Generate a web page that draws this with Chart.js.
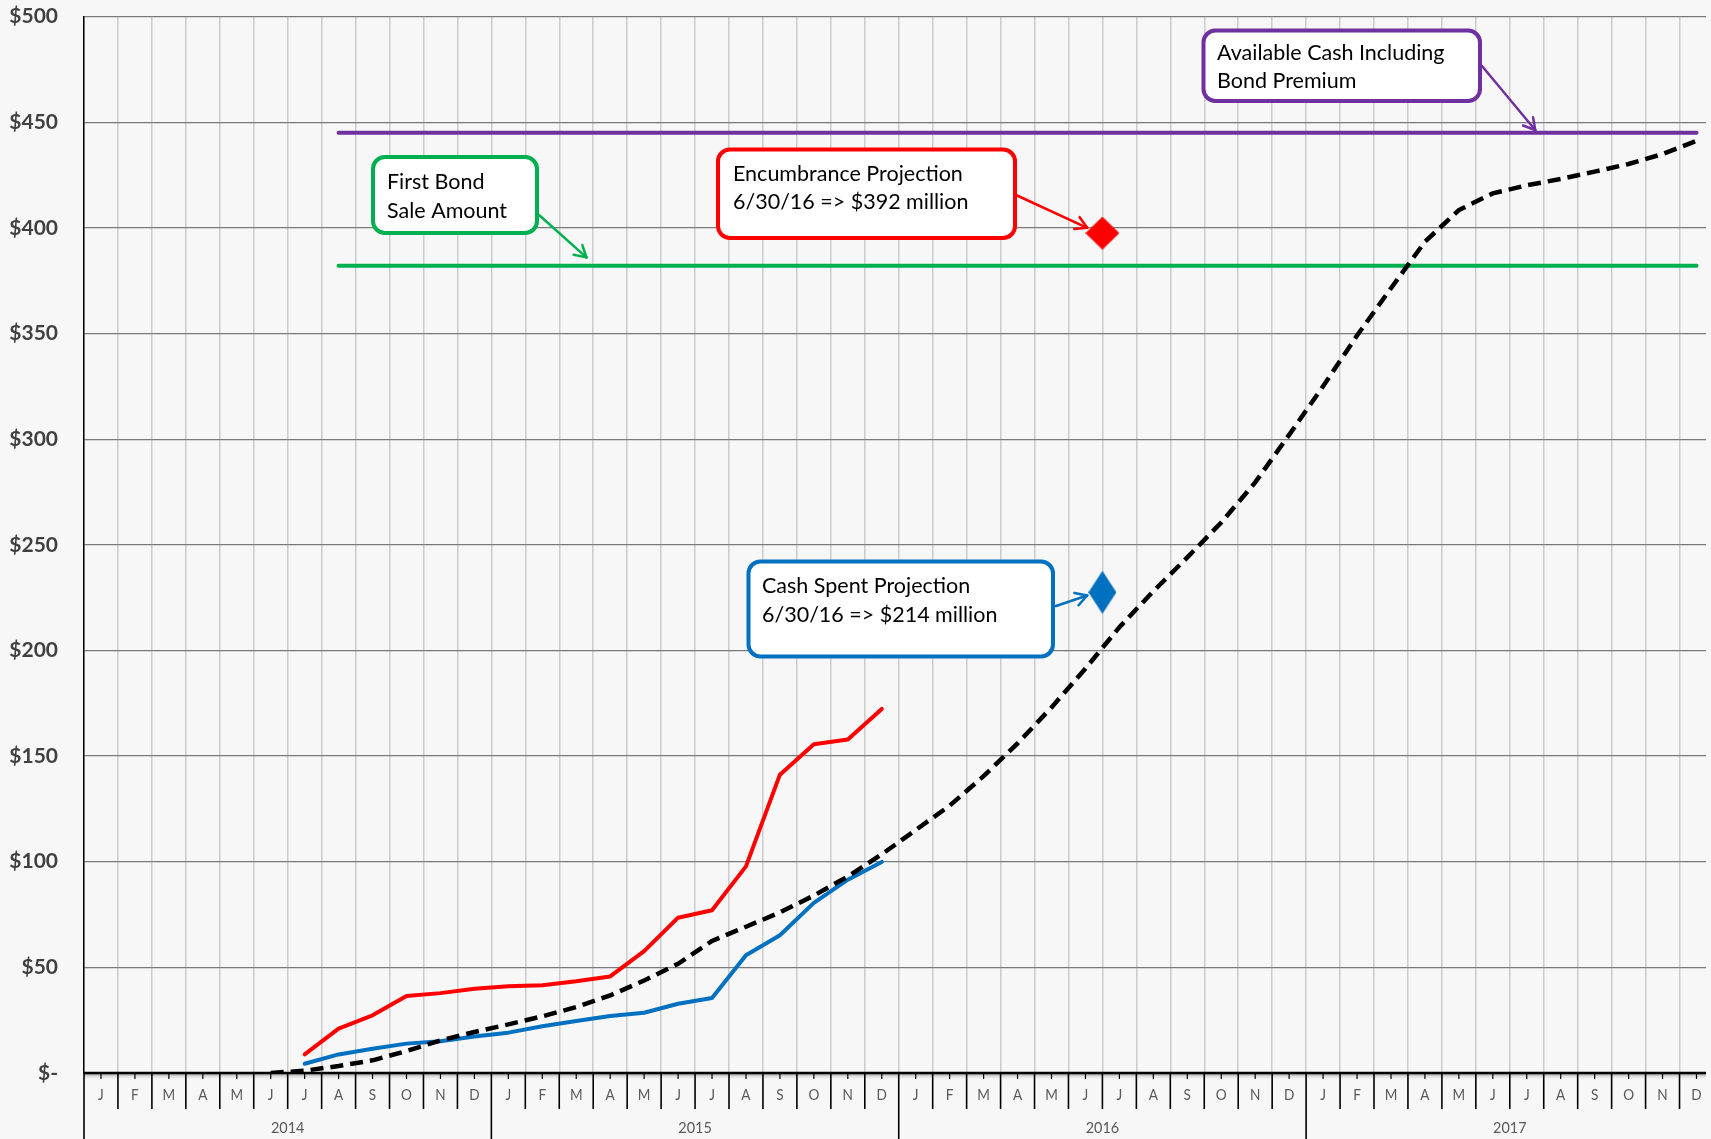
<!DOCTYPE html>
<html>
<head>
<meta charset="utf-8">
<script src="https://cdn.jsdelivr.net/npm/chart.js@4.4.0/dist/chart.umd.min.js"></script>
<style>
  html, body { margin: 0; padding: 0; background: #f7f7f7; }
  #wrap { width: 1711px; height: 1139px; position: relative; }
</style>
</head>
<body>
<div id="wrap"><canvas id="bondChart"></canvas></div>
<script>
// months run Jan 2014 .. Dec 2017, index 0..47 (points sit at index + 0.5)
const monthLetters = ["J", "F", "M", "A", "M", "J", "J", "A", "S", "O", "N", "D"];
const yearLabels = ["2014", "2015", "2016", "2017"];

// actuals start Jul 2014
const actualStart = 6;
const encumbranceActual = [8.8, 21.0, 27.3, 36.4, 37.8, 39.9,
    41.0, 41.5, 43.4, 45.7, 57.7, 73.5, 77.0, 97.8, 141.2, 155.6, 157.8, 172.3];
const cashSpentActual = [4.4, 8.8, 11.5, 13.9, 15.0, 17.3,
    19.1, 22.1, 24.6, 27.0, 28.5, 32.8, 35.5, 55.7, 65.2, 80.5, 91.5, 99.9];

// projected cash spent starts Jun 2014
const projectionStart = 5;
const cashSpentProjection = [0, 1.1, 3.3, 6.0, 10.4, 15.4, 19.4,
    23.0, 26.8, 31.2, 36.7, 43.8, 51.7, 62.5, 69.2, 76.0, 84.0, 93.0, 103.5,
    115, 126.5, 140.5, 156, 173, 191.4, 211, 228, 244, 260.5, 279.5, 302,
    325, 349, 371.4, 393.4, 408.4, 416.3, 420.1, 423.1, 426.6, 430.2, 434.9, 441.2];

// level lines Aug 2014 .. Dec 2017
const levelStart = 7;
const levelEnd = 47;
const firstBondSale = 382;
const availableCash = 445;

// 6/30/16 projections (end of June 2016 = month boundary 30)
const projectionDate = 30;
const encumbranceTarget = 397.5;
const cashSpentTarget = 227.5;

function toPoints(start, values) {
    return values.map((v, k) => ({ x: start + k + 0.5, y: v }));
}

function diamondImage(w, h, color) {
    const c = document.createElement("canvas");
    c.width = w; c.height = h;
    const g = c.getContext("2d");
    g.fillStyle = color;
    g.beginPath();
    g.moveTo(w / 2, 0); g.lineTo(w, h / 2); g.lineTo(w / 2, h); g.lineTo(0, h / 2);
    g.closePath();
    g.fill();
    return c;
}

const callouts = [
    { color: "#00b050", box: [373, 157, 164, 76], lines: ["First Bond", "Sale Amount"],
      textX: 387, textY: [182, 211], from: [539, 215], tip: [14.8, 386] },
    { color: "#ff0000", box: [718, 149.5, 297, 88.5], lines: ["Encumbrance Projection", "6/30/16 => $392 million"],
      textX: 733, textY: [174, 202], from: [1016, 195], tip: [29.55, 400] },
    { color: "#0070c0", box: [748.5, 561.5, 304.5, 95], lines: ["Cash Spent Projection", "6/30/16 => $214 million"],
      textX: 762, textY: [586, 615], from: [1056, 606], tip: [29.55, 226] },
    { color: "#7030a0", box: [1203.5, 30.5, 276.5, 70.5], lines: ["Available Cash Including", "Bond Premium"],
      textX: 1217, textY: [53, 81], from: [1482, 66], tip: [42.75, 446.3] }
];

function strokeLine(ctx, x1, y1, x2, y2) {
    ctx.beginPath(); ctx.moveTo(x1, y1); ctx.lineTo(x2, y2); ctx.stroke();
}

// narrow text like the original axis font
function narrowText(ctx, text, x, y, squeeze) {
    ctx.save();
    ctx.translate(x, y);
    ctx.scale(squeeze, 1);
    ctx.fillText(text, 0, 0);
    ctx.restore();
}

const monthAxis = {
    id: "monthAxis",
    beforeDatasetsDraw(chart) {
        const { ctx, chartArea, scales } = chart;
        const x = scales.x;
        const y0 = scales.y.getPixelForValue(0);
        ctx.save();
        const grad = ctx.createLinearGradient(0, y0, 0, y0 + 7);
        grad.addColorStop(0, "#8c8c8c");
        grad.addColorStop(1, "rgba(247,247,247,0)");
        ctx.fillStyle = grad;
        ctx.fillRect(chartArea.left, y0, chartArea.right - chartArea.left, 7);
        ctx.strokeStyle = "#000";
        ctx.lineWidth = 2.5;
        strokeLine(ctx, chartArea.left, y0, chartArea.right, y0);
        for (let i = 0; i < 48; i++) {
            const px = x.getPixelForValue(i);
            ctx.lineWidth = 1.6;
            strokeLine(ctx, px, y0, px, i % 12 === 0 ? chart.height : y0 + 36);
            const c = x.getPixelForValue(i + 0.5);
            ctx.lineWidth = 1.2;
            strokeLine(ctx, c, y0, c, y0 + 6);
        }
        ctx.fillStyle = "#595959";
        ctx.textAlign = "center";
        ctx.textBaseline = "middle";
        ctx.font = "16px Lato";
        for (let i = 0; i < 48; i++) {
            narrowText(ctx, monthLetters[i % 12], x.getPixelForValue(i + 0.5), y0 + 22, 0.85);
        }
        ctx.font = "16px Lato";
        yearLabels.forEach((yr, k) => narrowText(ctx, yr, x.getPixelForValue(k * 12 + 6), y0 + 55, 0.9));
        ctx.restore();
    }
};

const calloutPlugin = {
    id: "callouts",
    afterDatasetsDraw(chart) {
        const { ctx, scales } = chart;
        ctx.save();
        callouts.forEach(c => {
            const [bx, by, bw, bh] = c.box;
            ctx.lineWidth = 4;
            ctx.strokeStyle = c.color;
            ctx.fillStyle = "#ffffff";
            ctx.beginPath();
            ctx.roundRect(bx, by, bw, bh, 12);
            ctx.fill();
            ctx.stroke();

            ctx.fillStyle = "#000";
            ctx.font = "21.5px Lato";
            ctx.textAlign = "left";
            ctx.textBaseline = "middle";
            c.lines.forEach((t, k) => ctx.fillText(t, c.textX, c.textY[k]));

            const tx = scales.x.getPixelForValue(c.tip[0]);
            const ty = scales.y.getPixelForValue(c.tip[1]);
            ctx.lineWidth = 2.5;
            ctx.lineCap = "round";
            strokeLine(ctx, c.from[0], c.from[1], tx, ty);
            const a = Math.atan2(ty - c.from[1], tx - c.from[0]);
            const len = 13;
            [a + Math.PI * 5 / 6, a - Math.PI * 5 / 6].forEach(b => {
                strokeLine(ctx, tx, ty, tx + len * Math.cos(b), ty + len * Math.sin(b));
            });
        });
        ctx.restore();
    }
};

new Chart(document.getElementById("bondChart"), {
    type: "line",
    data: {
        datasets: [
            {
                data: [{ x: projectionDate, y: encumbranceTarget }],
                showLine: false,
                pointStyle: diamondImage(34, 33, "#ff0000")
            },
            {
                data: [{ x: projectionDate, y: cashSpentTarget }],
                showLine: false,
                pointStyle: diamondImage(28, 43, "#0070c0")
            },
            {
                data: toPoints(projectionStart, cashSpentProjection),
                borderColor: "#000000",
                borderWidth: 4.5,
                borderDash: [13, 7],
                pointRadius: 0
            },
            {
                data: toPoints(actualStart, cashSpentActual),
                borderColor: "#0070c0",
                borderWidth: 4,
                borderCapStyle: "round",
                borderJoinStyle: "round",
                pointRadius: 0
            },
            {
                data: toPoints(actualStart, encumbranceActual),
                borderColor: "#ff0000",
                borderWidth: 4,
                borderCapStyle: "round",
                borderJoinStyle: "round",
                pointRadius: 0
            },
            {
                data: [{ x: levelStart + 0.5, y: firstBondSale }, { x: levelEnd + 0.5, y: firstBondSale }],
                borderColor: "#00b050",
                borderWidth: 4,
                borderCapStyle: "round",
                pointRadius: 0
            },
            {
                data: [{ x: levelStart + 0.5, y: availableCash }, { x: levelEnd + 0.5, y: availableCash }],
                borderColor: "#7030a0",
                borderWidth: 4,
                borderCapStyle: "round",
                pointRadius: 0
            }
        ]
    },
    options: {
        responsive: true,
        maintainAspectRatio: false,
        animation: false,
        layout: { padding: { top: 16.5, right: 0, left: 0, bottom: 0 } },
        plugins: { legend: { display: false }, tooltip: { enabled: false } },
        elements: { line: { tension: 0 } },
        scales: {
            x: {
                type: "linear",
                min: 0,
                max: 47.78,   // last month is cut by the picture's right edge
                ticks: { display: false, stepSize: 1, includeBounds: false },
                grid: { color: "#cccccc", lineWidth: 1.5, drawTicks: false },
                border: { display: false },
                afterFit: (scale) => {
                    scale.height = 66;
                    scale.paddingLeft = 0;
                    scale.paddingRight = 0;
                }
            },
            y: {
                min: 0,
                max: 500,
                ticks: {
                    stepSize: 50,
                    padding: 26,
                    color: "#404040",
                    font: { family: "Lato", size: 21, weight: "bold" },
                    callback: (v) => v === 0 ? "$-" : "$" + v
                },
                grid: { color: "#7a7a7a", lineWidth: 1.2, drawTicks: false },
                border: { display: true, color: "#000000", width: 1.5 },
                afterFit: (scale) => {
                    scale.width = 84;
                    scale.paddingTop = 12;
                    scale.paddingBottom = 12;
                }
            }
        }
    },
    plugins: [monthAxis, calloutPlugin]
});
</script>
</body>
</html>
